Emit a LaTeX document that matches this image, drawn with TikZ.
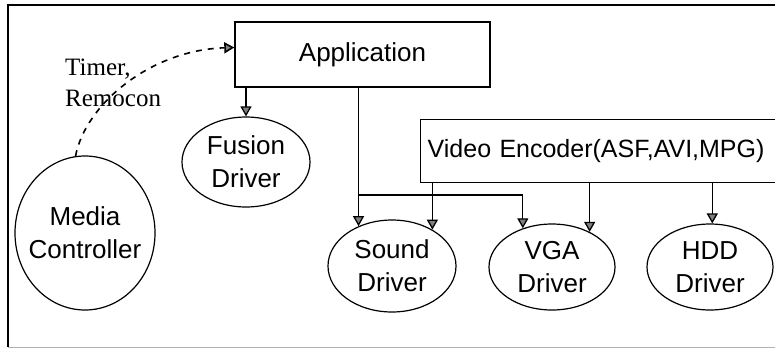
\documentclass[tikz,border=0pt]{standalone}
\usepackage{fontspec}
\setmainfont{Liberation Sans}
\newfontfamily\notefont{Liberation Serif}
\usetikzlibrary{shapes.geometric,arrows.meta}
\begin{document}
\begin{tikzpicture}[x=1pt, y=-1pt,
	box/.style={draw, line width=1.4pt, inner sep=0pt},
	drv/.style={draw, ellipse, line width=1.2pt, inner sep=0pt, align=center, font=\fontsize{26}{33}\selectfont},
	arr/.style={line width=1.3pt, -{Triangle[width=11pt, length=10pt, fill=gray]}}]
\useasboundingbox (0,0) rectangle (775,349);
\draw[line width=1.3pt] (790,5) -- (8,5) -- (8,347);
\draw[gray!60, line width=1pt] (8,347) -- (790,347);
\node[box, minimum width=255pt, minimum height=65pt, font=\fontsize{26}{30}\selectfont] (app) at (362.5,54.5) {Application};
\node[box, anchor=north west, minimum height=63pt, text width=380pt, inner xsep=7pt, align=left, font=\fontsize{25}{30}\selectfont] (venc) at (420,119) {Video Encoder(ASF,AVI,MPG)};
\node[drv, minimum width=140pt, minimum height=154pt, inner xsep=-15pt] (mc) at (85,233) {Media\\Controller};
\node[drv, minimum width=128pt, minimum height=90pt] (fus) at (246,162) {Fusion\\Driver};
\node[drv, minimum width=128pt, minimum height=92pt] (snd) at (392,266) {Sound\\Driver};
\node[drv, minimum width=126pt, minimum height=86pt] (vga) at (552,267) {VGA\\Driver};
\node[drv, minimum width=126pt, minimum height=86pt] (hdd) at (710,267) {HDD\\Driver};
\node[font=\notefont\fontsize{25}{31}\selectfont, align=left, anchor=north west, inner sep=0pt] (note) at (65,59) {Timer,\\Remocon};
\draw[arr] (app.south -| fus.north) -- (fus.north);
\draw[arr] (snd.130 |- app.south) -- (snd.130);
\coordinate (split) at (snd.130 |- 0,195);
\draw[arr] (split) -| (vga.127);
\foreach \e/\a in {snd/42, vga/43, hdd/87}
	\draw[arr] (\e.\a |- venc.south) -- (\e.\a);
\draw[arr, line width=1.6pt, dash pattern=on 6pt off 6pt] (mc.97) .. controls (85,105) and (150,50) .. ([yshift=7pt]app.west);
\end{tikzpicture}
\end{document}
